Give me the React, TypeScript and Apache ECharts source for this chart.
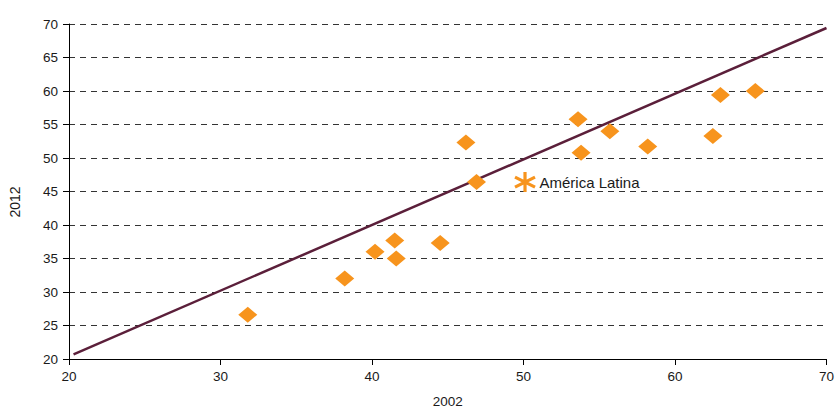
import React, { useEffect, useRef } from "react";
import * as echarts from "echarts";

// 2002 (x) vs 2012 (y) values by country
const xValues2002 = [31.8, 38.2, 40.2, 41.5, 41.6, 44.5, 46.2, 46.9, 53.6, 53.8, 55.7, 58.2, 62.5, 63.0, 65.3];
const yValues2012 = [26.6, 32.0, 36.0, 37.7, 35.0, 37.3, 52.3, 46.4, 55.8, 50.8, 54.0, 51.7, 53.3, 59.4, 60.0];

const latinAmericaLabel = "América Latina";
const latinAmerica = [50.1, 46.4];

const trendLine = [
  [20.3, 20.7],
  [70, 69.4],
];

const xTicks = [20, 70, 10];
const yTicks = [20, 70, 5];
const xTitle = "2002";
const yTitle = "2012";

export default function App() {
  const ref = useRef<HTMLDivElement>(null);
  useEffect(() => {
    if (!ref.current) return;
    const chart = echarts.init(ref.current, undefined, { renderer: "svg" });
    const font = "'Liberation Sans', Arial, sans-serif";
    const textColor = "#1a1a1a";
    chart.setOption({
      animation: false,
      grid: { left: 69, right: 6, top: 24, bottom: 48, containLabel: false },
      graphic: [
        {
          type: "text",
          x: 15,
          y: 202,
          rotation: Math.PI / 2,
          style: {
            text: yTitle,
            fontFamily: font,
            fontSize: 14,
            fill: textColor,
            align: "center",
            verticalAlign: "middle",
          },
        },
      ],
      xAxis: {
        type: "value",
        min: xTicks[0],
        max: xTicks[1],
        interval: xTicks[2],
        name: xTitle,
        nameLocation: "middle",
        nameGap: 35,
        nameTextStyle: { fontFamily: font, fontSize: 13.5, color: textColor },
        axisLine: { show: true, lineStyle: { color: "#000", width: 1 } },
        axisTick: { show: true, inside: false, length: 6, lineStyle: { color: "#000" } },
        axisLabel: { margin: 10, fontFamily: font, fontSize: 13.5, color: textColor },
        splitLine: { show: false },
      },
      yAxis: {
        type: "value",
        min: yTicks[0],
        max: yTicks[1],
        interval: yTicks[2],
        axisLine: { show: true, lineStyle: { color: "#000", width: 1 } },
        axisTick: { show: true, inside: false, length: 6, lineStyle: { color: "#000" } },
        axisLabel: { margin: 11, fontFamily: font, fontSize: 13.5, color: textColor },
        splitLine: { show: true, lineStyle: { color: "#333", width: 1, type: [6, 5] } },
      },
      series: [
        {
          type: "line",
          data: trendLine,
          symbol: "none",
          lineStyle: { color: "#5b1f3a", width: 2.5 },
          z: 3,
        },
        {
          type: "scatter",
          data: xValues2002.map((x, i) => [x, yValues2012[i]]),
          symbol: "diamond",
          symbolSize: [19, 16],
          itemStyle: { color: "#f7941d", opacity: 1 },
          z: 4,
        },
        {
          type: "scatter",
          data: [latinAmerica],
          symbol: "path://M10 0 L10 20 M1.34 5 L18.66 15 M1.34 15 L18.66 5",
          symbolSize: 20,
          itemStyle: { color: "none", borderColor: "#f7941d", borderWidth: 3.2, opacity: 1 },
          label: {
            show: true,
            position: "right",
            distance: 2,
            formatter: latinAmericaLabel,
            fontFamily: font,
            fontSize: 15,
            color: textColor,
          },
          z: 5,
        },
      ],
    });
    return () => chart.dispose();
  }, []);
  return <div ref={ref} style={{ width: 837, height: 413, position: "absolute", left: 0, top: 0 }} />;
}
